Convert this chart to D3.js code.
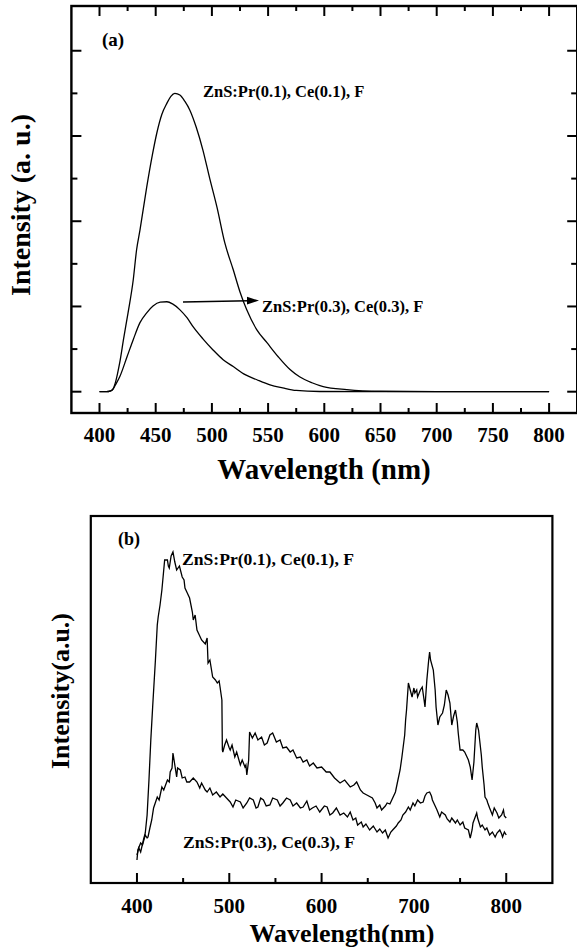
<!DOCTYPE html>
<html><head><meta charset="utf-8">
<script src="https://cdn.jsdelivr.net/npm/d3@7"></script>
<style>
html,body{margin:0;padding:0;background:#fff;}
svg{display:block;}
text{font-family:"Liberation Serif","Times New Roman",serif;font-weight:bold;fill:#000;}
</style></head>
<body>
<svg id="chart" width="577" height="951"></svg>
<script>
// ---------- Panel (a) data ----------
const aTicks = [400, 450, 500, 550, 600, 650, 700, 750, 800];
const aWave1 = [400, 406, 410, 412, 414, 416, 418, 421.5, 425.4, 430, 433, 436, 442, 447, 451, 455.5, 460, 463.5, 467, 471.5, 476, 480.5, 486, 492, 498, 504.5, 511.5, 519, 525, 531, 540, 549, 559, 569.5, 578, 589, 599, 620, 650, 700, 800];
const aInt1  = [0, 0, 0.02, 0.06, 0.2, 0.42, 0.68, 1.25, 1.85, 2.62, 3.33, 3.79, 4.8, 5.55, 6.07, 6.51, 6.77, 6.93, 7.0, 6.96, 6.81, 6.60, 6.21, 5.67, 5.01, 4.33, 3.49, 2.86, 2.34, 1.92, 1.45, 1.15, 0.82, 0.52, 0.35, 0.21, 0.12, 0.05, 0.01, 0, 0];
const aWave2 = [400, 406, 410, 412, 414, 418, 424.5, 430, 436, 442, 447.6, 454, 460, 465, 471.6, 478, 483.4, 492, 501, 510, 519, 529.6, 540, 551.7, 563, 575, 596, 650, 800];
const aInt2  = [0, 0, 0.02, 0.06, 0.15, 0.35, 0.82, 1.22, 1.62, 1.85, 2.01, 2.10, 2.11, 2.06, 1.92, 1.73, 1.52, 1.24, 0.98, 0.75, 0.59, 0.40, 0.28, 0.16, 0.09, 0.03, 0.005, 0, 0];
const aLabels = ["ZnS:Pr(0.1), Ce(0.1), F", "ZnS:Pr(0.3), Ce(0.3), F"];

// ---------- Panel (b) data ----------
const bTicks = [400, 500, 600, 700, 800];
const bWave1 = [400,402,404,407,409,411,413,415,417,420,422,423,425,427,429,430,433,434,435,437,439,441,443,446,449,451,452,454,457,460,461,463,465,467,470,474,476,477,479,482,485,487,489,490,492,492.5,493,495,497,500,501,503,506,508,512,514,517,518,519,521,522,525,528,531,535,538,541,544,547,551,555,558,562,566,569,573,577,580,584,587,591,595,600,605,609,614,620,625,631,635,638,642,645,649,655,658,660,663,665,669,671,674,676,680,682,685,687,690,691,692,694,696,698,700,701,703,704,707,709,711,712,714,716,717,718,721,723,724,726,728,731,733,735,737,739,741,743,745,747,748,750,753,755,759,761,763,765,767,768,770,773,774,776,777,779,780,782,785,787,790,792,795,797,798,800];
const bInt1  = [28,35,31,43,50,68,103,143,176,223,258,266,278,293,313,323,323,317,315,327,331,321,313,317,306,303,295,291,285,271,263,268,253,249,243,239,245,220,223,206,203,200,202,196,183,133,131,138,143,135,133,138,126,131,118,123,116,118,108,123,151,145,150,143,146,138,140,148,150,141,143,135,136,131,133,125,126,121,123,117,120,115,116,111,111,105,100,103,96,98,101,93,90,88,85,80,75,78,73,77,80,79,83,91,100,113,126,148,163,173,200,193,186,195,190,193,186,193,196,183,176,203,223,231,223,213,193,176,158,166,170,178,193,188,180,158,167,173,161,150,133,133,131,123,116,103,121,153,160,153,128,116,98,86,83,80,75,68,75,70,65,68,73,67,65];
const bWave2 = [400,401,404,406,409,411,412,414,416,418,422,424,427,429,433,435,436,438,439,441,443,444,447,449,452,454,457,461,465,468,470,474,476,479,482,486,490,493,497,501,504,507,512,515,519,522,526,529,531,534,537,540,544,547,552,555,558,562,566,569,573,577,580,584,587,590,594,598,603,606,609,612,616,620,624,628,631,634,637,639,643,645,648,652,656,660,663,666,669,672,675,677,681,683,686,688,691,694,696,699,701,704,707,710,712,714,717,719,720,723,725,728,730,734,736,739,741,745,747,750,753,755,759,761,763,764,766,768,769,772,774,777,779,782,785,788,790,793,795,796,798,800];
const bInt2  = [23,33,40,38,48,45,46,55,63,75,86,83,96,93,103,101,111,115,130,118,106,115,113,105,106,101,101,105,101,95,100,93,91,95,88,91,86,89,85,81,76,83,81,75,80,85,83,75,76,85,83,77,78,85,83,77,80,85,83,77,80,75,76,82,73,75,77,71,77,76,68,70,75,68,70,66,71,63,65,58,61,56,59,53,57,51,54,50,53,45,51,53,57,60,63,68,71,76,73,80,77,83,80,81,87,90,91,87,83,77,73,66,71,68,64,61,65,60,63,58,61,55,53,45,53,60,65,70,65,56,58,53,55,48,51,46,50,53,49,46,51,48];
const bLabels = ["ZnS:Pr(0.1), Ce(0.1), F", "ZnS:Pr(0.3), Ce(0.3), F"];

const svg = d3.select("#chart");

// ================= Panel (a) =================
const ax = d3.scaleLinear().domain([375, 825]).range([71.4, 577.2]);
const ay = d3.scaleLinear().domain([-0.5, 9.05]).range([413, 6]);
const gA = svg.append("g");

gA.append("rect").attr("x", ax(375)).attr("y", ay(9.05))
  .attr("width", ax(825) - ax(375)).attr("height", ay(-0.5) - ay(9.05))
  .attr("fill", "none").attr("stroke", "#000").attr("stroke-width", 2.4);

d3.range(400, 801, 25).forEach(v => {
  const L = v % 50 === 0 ? 10 : 5;
  gA.append("line").attr("x1", ax(v)).attr("x2", ax(v)).attr("y1", ay(-0.5)).attr("y2", ay(-0.5) - L)
    .attr("stroke", "#000").attr("stroke-width", 2);
  gA.append("line").attr("x1", ax(v)).attr("x2", ax(v)).attr("y1", ay(9.05)).attr("y2", ay(9.05) + L)
    .attr("stroke", "#000").attr("stroke-width", 2);
});
d3.range(0, 9).forEach(v => {
  const L = v % 2 === 0 ? 10 : 6;
  gA.append("line").attr("x1", ax(375)).attr("x2", ax(375) + L).attr("y1", ay(v)).attr("y2", ay(v))
    .attr("stroke", "#000").attr("stroke-width", 2);
  gA.append("line").attr("x1", ax(825)).attr("x2", ax(825) - L).attr("y1", ay(v)).attr("y2", ay(v))
    .attr("stroke", "#000").attr("stroke-width", 2);
});
gA.selectAll("text.xt").data(aTicks).enter().append("text")
  .attr("x", d => ax(d)).attr("y", 442).attr("text-anchor", "middle")
  .style("font-size", "21px").text(d => d);

const lineA = d3.line().x(d => ax(d[0])).y(d => ay(d[1])).curve(d3.curveMonotoneX);
gA.append("path").datum(aWave1.map((w, i) => [w, aInt1[i]]))
  .attr("d", lineA).attr("fill", "none").attr("stroke", "#000").attr("stroke-width", 1.3);
gA.append("path").datum(aWave2.map((w, i) => [w, aInt2[i]]))
  .attr("d", lineA).attr("fill", "none").attr("stroke", "#000").attr("stroke-width", 1.3);

gA.append("text").attr("x", 102).attr("y", 46).style("font-size", "19px").text("(a)");
gA.append("text").attr("x", 203).attr("y", 97).style("font-size", "16.5px").text(aLabels[0]);
gA.append("text").attr("x", 262).attr("y", 312).style("font-size", "16.5px").text(aLabels[1]);
gA.append("line").attr("x1", 183).attr("y1", 302).attr("x2", 249).attr("y2", 300.8)
  .attr("stroke", "#000").attr("stroke-width", 1.5);
gA.append("path").attr("d", "M259,300.6 L247,296.8 L247,304.6 Z").attr("fill", "#000");

gA.append("text").attr("x", 324).attr("y", 479).attr("text-anchor", "middle")
  .style("font-size", "29px").text("Wavelength (nm)");
gA.append("text").attr("transform", "translate(30,205) rotate(-90)").attr("text-anchor", "middle")
  .style("font-size", "28px").text("Intensity (a. u.)");

// ================= Panel (b) =================
const bx = d3.scaleLinear().domain([350, 850]).range([90.8, 552.4]);
const by = d3.scaleLinear().domain([0, 367]).range([883, 516]);
const gB = svg.append("g");

gB.append("rect").attr("x", bx(350)).attr("y", by(367))
  .attr("width", bx(850) - bx(350)).attr("height", by(0) - by(367))
  .attr("fill", "none").attr("stroke", "#000").attr("stroke-width", 2.2);

d3.range(400, 801, 50).forEach(v => {
  const L = v % 100 === 0 ? 10 : 5;
  gB.append("line").attr("x1", bx(v)).attr("x2", bx(v)).attr("y1", by(0)).attr("y2", by(0) - L)
    .attr("stroke", "#000").attr("stroke-width", 2);
});
gB.selectAll("text.xt").data(bTicks).enter().append("text")
  .attr("x", d => bx(d)).attr("y", 913).attr("text-anchor", "middle")
  .style("font-size", "21px").text(d => d);

const lineB = d3.line().x(d => bx(d[0])).y(d => by(d[1]));
gB.append("path").datum(bWave1.map((w, i) => [w, bInt1[i]]))
  .attr("d", lineB).attr("fill", "none").attr("stroke", "#000").attr("stroke-width", 1.3);
gB.append("path").datum(bWave2.map((w, i) => [w, bInt2[i]]))
  .attr("d", lineB).attr("fill", "none").attr("stroke", "#000").attr("stroke-width", 1.3);

gB.append("text").attr("x", 118).attr("y", 545).style("font-size", "18px").text("(b)");
gB.append("text").attr("x", 182).attr("y", 565).style("font-size", "17.6px").text(bLabels[0]);
gB.append("text").attr("x", 183).attr("y", 848).style("font-size", "17.6px").text(bLabels[1]);

gB.append("text").attr("x", 342).attr("y", 942).attr("text-anchor", "middle")
  .style("font-size", "26px").text("Wavelength(nm)");
gB.append("text").attr("transform", "translate(69,691) rotate(-90)").attr("text-anchor", "middle")
  .style("font-size", "26px").text("Intensity(a.u.)");
</script>
</body></html>
